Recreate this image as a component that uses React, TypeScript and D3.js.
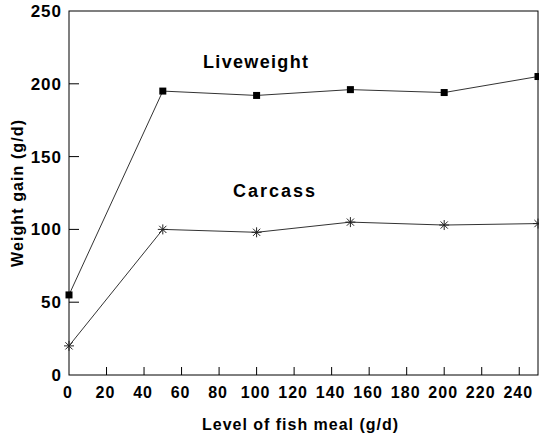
import React from "react";
import * as d3 from "d3";

const fishMeal = [0, 50, 100, 150, 200, 250];
const liveweight = [55, 195, 192, 196, 194, 205];
const carcass = [20, 100, 98, 105, 103, 104];
const xTicks = [0, 20, 40, 60, 80, 100, 120, 140, 160, 180, 200, 220, 240];
const yTicks = [0, 50, 100, 150, 200, 250];
const seriesLabels = ["Liveweight", "Carcass"];
const xTitle = "Level of fish meal (g/d)";
const yTitle = "Weight gain (g/d)";

export default function App() {
  const W = 539, H = 437;
  const left = 69, right = 538, top = 11, bottom = 375;
  const x = d3.scaleLinear().domain([0, 250]).range([left, right]);
  const y = d3.scaleLinear().domain([0, 250]).range([bottom, top]);
  const line = d3.line<number>().x((_, i) => x(fishMeal[i])).y((d) => y(d));
  const font = "'Liberation Sans', Arial, Helvetica, sans-serif";

  const star = (cx: number, cy: number, k: string) => {
    const r = 5;
    const d = 3.6;
    return (
      <g key={k} stroke="#222" strokeWidth={1}>
        <line x1={cx - r} y1={cy} x2={cx + r} y2={cy} />
        <line x1={cx} y1={cy - r} x2={cx} y2={cy + r} />
        <line x1={cx - d} y1={cy - d} x2={cx + d} y2={cy + d} />
        <line x1={cx - d} y1={cy + d} x2={cx + d} y2={cy - d} />
      </g>
    );
  };

  return (
    <svg width={W} height={H} style={{ position: "absolute", left: 0, top: 0 }} fontFamily={font}>
      <rect x={0} y={0} width={W} height={H} fill="#fff" />
      <rect x={left} y={top} width={right - left} height={bottom - top} fill="none" stroke="#000" strokeWidth={1} />
      {yTicks.map((t) => (
        <g key={"y" + t}>
          {t > 0 && t < 250 && <line x1={left} x2={left + 10} y1={y(t)} y2={y(t)} stroke="#000" />}
          <text x={62} y={y(t) + 6} textAnchor="end" fontSize={17} fontWeight="bold" letterSpacing={1}>
            {t}
          </text>
        </g>
      ))}
      {xTicks.map((t) => (
        <g key={"x" + t}>
          {t > 0 && <line x1={x(t)} x2={x(t)} y1={bottom} y2={bottom - 8} stroke="#000" />}
          <text x={x(t) - 1} y={398} textAnchor="middle" fontSize={16} fontWeight="bold" letterSpacing={1}>
            {t}
          </text>
        </g>
      ))}
      <path d={line(liveweight) || ""} fill="none" stroke="#333" strokeWidth={1} />
      <path d={line(carcass) || ""} fill="none" stroke="#333" strokeWidth={1} />
      {liveweight.map((v, i) => (
        <rect key={"lw" + i} x={x(fishMeal[i]) - 3.5} y={y(v) - 3.5} width={7} height={7} fill="#000" />
      ))}
      {carcass.map((v, i) => star(x(fishMeal[i]), y(v), "c" + i))}
      <text x={203} y={68} fontSize={18} fontWeight="bold" textLength={105} lengthAdjust="spacing">
        {seriesLabels[0]}
      </text>
      <text x={233} y={197} fontSize={18} fontWeight="bold" textLength={82} lengthAdjust="spacing">
        {seriesLabels[1]}
      </text>
      <text x={202} y={430} fontSize={16} fontWeight="bold" textLength={196} lengthAdjust="spacing">
        {xTitle}
      </text>
      <text
        transform={`translate(23,267) rotate(-90)`}
        fontSize={16}
        fontWeight="bold"
        textLength={147}
        lengthAdjust="spacing"
      >
        {yTitle}
      </text>
    </svg>
  );
}
